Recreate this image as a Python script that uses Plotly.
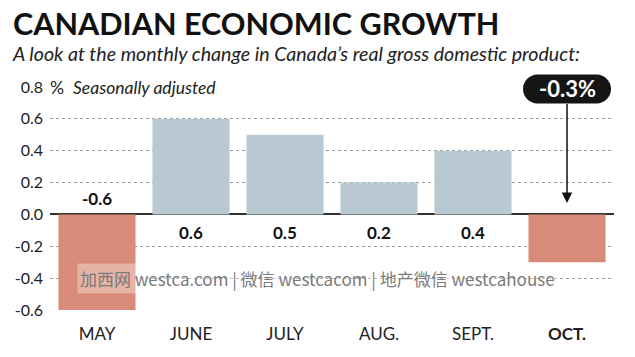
import plotly.graph_objects as go

months = ["MAY", "JUNE", "JULY", "AUG.", "SEPT.", "OCT."]
month_labels = ["MAY", "JUNE", "JULY", "AUG.", "SEPT.", "<b>OCT.</b>"]
gdp_change = [-0.6, 0.6, 0.5, 0.2, 0.4, -0.3]
show_value = [True, True, True, True, True, False]
y_ticks = [-0.6, -0.4, -0.2, 0.0, 0.2, 0.4, 0.6, 0.8]
y_ticktext = ["-0.6", "-0.4", "-0.2", "0.0", "0.2", "0.4", "0.6", "0.8"]
callout_text = "-0.3%"

RED = "#d98b79"
BLUE = "#b8c9d3"
FONT = "Lato"

colors = [RED if v < 0 else BLUE for v in gdp_change]

fig = go.Figure()
fig.add_trace(go.Bar(
    x=months, y=gdp_change, marker=dict(color=colors, line=dict(width=0)),
    hoverinfo="skip", showlegend=False,
))

W, H = 635, 357
L, R, T, B = 50, 21, 87, 47
pw, ph = W - L - R, H - T - B
Y_RANGE = [-0.6, 0.8]

def px(xp):
    return (xp - L) / pw

def py(yp):
    return (H - B - yp) / ph

annotations = []
# value labels
for m, v, s in zip(months, gdp_change, show_value):
    if not s:
        continue
    if v >= 0:
        annotations.append(dict(x=m, y=0, xref="x", yref="y", text=f"<b>{v:.1f}</b>",
                                showarrow=False, yanchor="top", yshift=-6,
                                font=dict(family=FONT, size=17, color="#111")))
    else:
        annotations.append(dict(x=m, y=0, xref="x", yref="y", text=f"<b>{v:.1f}</b>",
                                showarrow=False, yanchor="bottom", yshift=3,
                                font=dict(family=FONT, size=17, color="#111")))

# title & subtitle
annotations.append(dict(x=px(11), y=py(3), xref="paper", yref="paper",
                        text="<b>CANADIAN ECONOMIC GROWTH</b>", showarrow=False,
                        xanchor="left", yanchor="top",
                        font=dict(family=FONT, size=30.6, color="#111", weight=900)))
annotations.append(dict(x=px(10), y=py(53), xref="paper", yref="paper",
                        text="<i>A look at the monthly change in Canada’s real gross domestic product:</i>",
                        showarrow=False, xanchor="left", yanchor="middle",
                        font=dict(family=FONT, size=19.6, color="#222")))
annotations.append(dict(x=px(47), y=1, xref="paper", yref="paper",
                        text="%  <i>Seasonally adjusted</i>", showarrow=False,
                        xanchor="left", yanchor="middle", bgcolor="white", borderpad=2,
                        font=dict(family=FONT, size=17.5, color="#222")))

# watermark
annotations.append(dict(x=px(317), y=-0.4, xref="paper", yref="y",
                        text="加西网 westca.com | 微信 westcacom | 地产微信 westcahouse",
                        showarrow=False, xanchor="center", yanchor="middle",
                        bgcolor="rgba(255,255,255,0.35)", borderpad=2,
                        font=dict(family="Noto Sans CJK SC", size=17, color="#7a7a7a")))

# callout
tip_y = 0.072
rise = 114
annotations.append(dict(x=months[5], y=tip_y, xref="x", yref="y",
                        text=f"<b>{callout_text}</b>", showarrow=True,
                        ax=0, ay=-rise, axref="pixel", ayref="pixel",
                        arrowhead=2, arrowsize=1.4, arrowwidth=1.5, arrowcolor="#111",
                        font=dict(family=FONT, size=22, color="white")))

# pill behind callout (pixel-sized, anchored at the arrow tip in paper space so it is not clipped)
idx = months.index("OCT.")
anchor_x = (idx + 0.5) / len(months)
anchor_y = (tip_y - Y_RANGE[0]) / (Y_RANGE[1] - Y_RANGE[0])
cw, ch = 44, 14.5
cy = rise
k = 0.5523 * ch
pill = (f"M {-cw+ch},{cy+ch} L {cw-ch},{cy+ch} "
        f"C {cw-ch+k},{cy+ch} {cw},{cy+k} {cw},{cy} "
        f"C {cw},{cy-k} {cw-ch+k},{cy-ch} {cw-ch},{cy-ch} "
        f"L {-cw+ch},{cy-ch} "
        f"C {-cw+ch-k},{cy-ch} {-cw},{cy-k} {-cw},{cy} "
        f"C {-cw},{cy+k} {-cw+ch-k},{cy+ch} {-cw+ch},{cy+ch} Z")
shapes = [dict(type="path", xref="paper", yref="paper", xsizemode="pixel", ysizemode="pixel",
               xanchor=anchor_x, yanchor=anchor_y, path=pill,
               fillcolor="#151515", line=dict(width=0), layer="above")]

fig.update_layout(
    width=W, height=H,
    margin=dict(l=L, r=R, t=T, b=B, autoexpand=False),
    paper_bgcolor="white", plot_bgcolor="white",
    bargap=0.18,
    annotations=annotations, shapes=shapes,
    xaxis=dict(tickvals=months, ticktext=month_labels, showgrid=False, zeroline=False,
               showline=False, ticks="", ticklabelstandoff=12,
               range=[-0.5, 5.5], fixedrange=True,
               tickfont=dict(family=FONT, size=17, color="#222")),
    yaxis=dict(range=Y_RANGE, tickvals=y_ticks, ticktext=y_ticktext,
               showgrid=True, gridcolor="#9a9a9a", griddash="dot", gridwidth=1,
               zeroline=True, zerolinecolor="#333", zerolinewidth=2,
               showline=False, ticks="", ticklabelstandoff=6, fixedrange=True,
               tickfont=dict(family=FONT, size=16, color="#222")),
    font=dict(family=FONT),
)

fig.write_html("out.html", config={"displayModeBar": False},
               post_script="document.body.style.margin='0';document.body.style.padding='0';")
